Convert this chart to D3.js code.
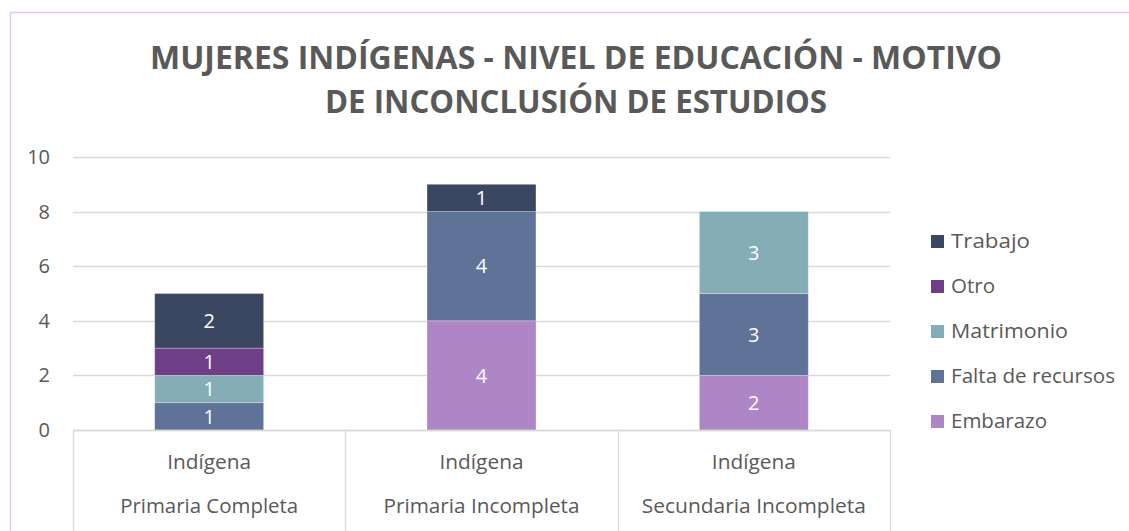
<!DOCTYPE html>
<meta charset="utf-8">
<style>
    body { margin: 0; background: #fff; }
    text { font-family: "Open Sans", "DejaVu Sans", sans-serif; fill: #595959; }
    .grid line { stroke: #d9d9d9; stroke-width: 1.3; }
    .cat line { stroke: #d9d9d9; stroke-width: 1.3; }
</style>
<svg width="1129" height="531"></svg>
<script src="https://cdn.jsdelivr.net/npm/d3@7"></script>
<script>

    var categories = ["Primaria Completa", "Primaria Incompleta", "Secundaria Incompleta"];
    var subLabel = "Indígena";
    var series = ["Embarazo", "Falta de recursos", "Matrimonio", "Otro", "Trabajo"];
    var embarazo = [0, 4, 2];
    var faltaRecursos = [1, 4, 3];
    var matrimonio = [1, 0, 3];
    var otro = [1, 0, 0];
    var trabajo = [2, 1, 0];
    var yTicks = [0, 2, 4, 6, 8, 10];
    var colors = ["#ae85c5", "#5f7297", "#85adb6", "#6e3f86", "#3b4760"];
    var titleLines = ["MUJERES INDÍGENAS - NIVEL DE EDUCACIÓN - MOTIVO", "DE INCONCLUSIÓN DE ESTUDIOS"];

    var svg = d3.select("svg"),
        width = +svg.attr("width"),
        height = +svg.attr("height");

    // chart frame
    svg.append("path")
        .attr("d", "M10.5,531 L10.5,12.5 L1129,12.5")
        .attr("fill", "none")
        .attr("stroke", "#e5c6f5")
        .attr("stroke-width", 1.5);

    var rows = categories.map(function (c, i) {
        return {
            cat: c,
            "Embarazo": embarazo[i],
            "Falta de recursos": faltaRecursos[i],
            "Matrimonio": matrimonio[i],
            "Otro": otro[i],
            "Trabajo": trabajo[i]
        };
    });

    var x = d3.scaleBand()
        .domain(categories)
        .range([73, 890])
        .paddingInner(0)
        .paddingOuter(0);

    var y = d3.scaleLinear()
        .domain([0, 10])
        .range([430, 157]);

    var color = d3.scaleOrdinal().domain(series).range(colors);

    // gridlines
    svg.append("g")
        .attr("class", "grid")
        .selectAll("line")
        .data(yTicks)
        .enter().append("line")
        .attr("x1", 73)
        .attr("x2", 890)
        .attr("y1", function (d) { return Math.round(y(d)) + 0.5; })
        .attr("y2", function (d) { return Math.round(y(d)) + 0.5; });

    // y tick labels
    svg.append("g")
        .selectAll("text")
        .data(yTicks)
        .enter().append("text")
        .attr("x", 50)
        .attr("y", function (d) { return y(d); })
        .attr("dy", "0.35em")
        .attr("text-anchor", "end")
        .style("font-size", "20px")
        .text(function (d) { return d; });

    var stack = d3.stack().keys(series)(rows);
    var barW = x.bandwidth() * 0.4;

    var layers = svg.append("g")
        .selectAll("g")
        .data(stack)
        .enter().append("g")
        .attr("fill", function (d) { return color(d.key); });

    layers.selectAll("rect")
        .data(function (d) { return d.filter(function (s) { return s[1] - s[0] > 0; }); })
        .enter().append("rect")
        .attr("x", function (d) { return x(d.data.cat) + (x.bandwidth() - barW) / 2; })
        .attr("width", barW)
        .attr("y", function (d) { return y(d[1]); })
        .attr("height", function (d) { return y(d[0]) - y(d[1]); })
        .attr("stroke", "#ffffff")
        .attr("stroke-opacity", 0.35)
        .attr("stroke-width", 0.8);

    layers.selectAll("text")
        .data(function (d) { return d.filter(function (s) { return s[1] - s[0] > 0; }); })
        .enter().append("text")
        .attr("x", function (d) { return x(d.data.cat) + x.bandwidth() / 2; })
        .attr("y", function (d) { return (y(d[0]) + y(d[1])) / 2; })
        .attr("dy", "0.36em")
        .attr("text-anchor", "middle")
        .style("fill", "#ffffff")
        .style("font-size", "20px")
        .text(function (d) { return d[1] - d[0]; });

    // category axis (table style)
    var cat = svg.append("g").attr("class", "cat");
    cat.append("line")
        .attr("x1", 73).attr("x2", 890)
        .attr("y1", 430.5).attr("y2", 430.5);
    cat.selectAll("line.div")
        .data(categories.concat(["end"]))
        .enter().append("line")
        .attr("class", "div")
        .attr("x1", function (d, i) { return Math.round(73 + i * x.bandwidth()) + 0.5; })
        .attr("x2", function (d, i) { return Math.round(73 + i * x.bandwidth()) + 0.5; })
        .attr("y1", 430)
        .attr("y2", 531);

    cat.selectAll("text.sub")
        .data(categories)
        .enter().append("text")
        .attr("x", function (d) { return x(d) + x.bandwidth() / 2; })
        .attr("y", 462)
        .attr("dy", "0.35em")
        .attr("text-anchor", "middle")
        .attr("textLength", 84)
        .attr("lengthAdjust", "spacingAndGlyphs")
        .style("font-size", "19.5px")
        .text(subLabel);

    cat.selectAll("text.main")
        .data(categories)
        .enter().append("text")
        .attr("x", function (d) { return x(d) + x.bandwidth() / 2; })
        .attr("y", 506)
        .attr("dy", "0.35em")
        .attr("text-anchor", "middle")
        .attr("textLength", function (d, i) { return [178, 196, 224][i]; })
        .attr("lengthAdjust", "spacingAndGlyphs")
        .style("font-size", "19.5px")
        .text(function (d) { return d; });

    // title
    svg.append("g")
        .selectAll("text")
        .data(titleLines)
        .enter().append("text")
        .attr("x", 576)
        .attr("y", function (d, i) { return 69 + i * 44; })
        .attr("text-anchor", "middle")
        .attr("textLength", function (d, i) { return i ? 502 : 852; })
        .attr("lengthAdjust", "spacingAndGlyphs")
        .style("font-size", "32px")
        .style("font-weight", "bold")
        .text(function (d) { return d; });

    // legend
    var legend = svg.append("g")
        .selectAll("g")
        .data(series.slice().reverse())
        .enter().append("g")
        .attr("transform", function (d, i) { return "translate(931," + (241 + i * 45) + ")"; });

    legend.append("rect")
        .attr("x", 0)
        .attr("y", -6)
        .attr("width", 13)
        .attr("height", 13)
        .attr("fill", function (d) { return color(d); });

    legend.append("text")
        .attr("x", 20)
        .attr("y", 0)
        .attr("dy", "0.35em")
        .attr("textLength", function (d, i) { return [79, 44, 117, 164, 96][i]; })
        .attr("lengthAdjust", "spacingAndGlyphs")
        .style("font-size", "20.5px")
        .text(function (d) { return d; });

</script>
